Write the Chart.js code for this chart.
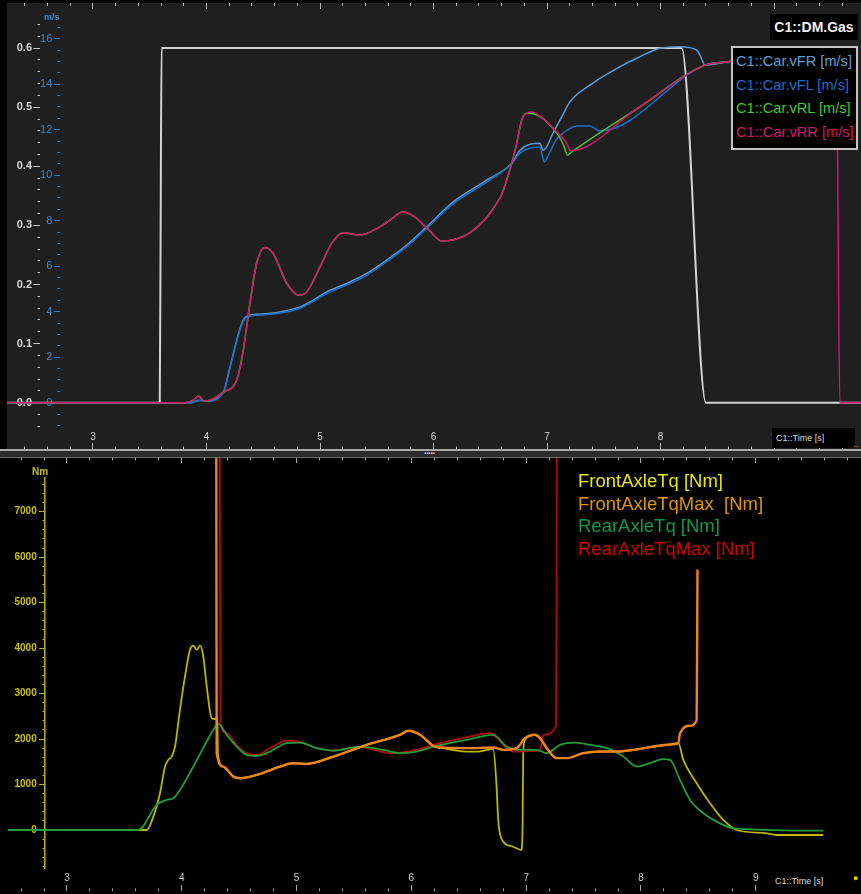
<!DOCTYPE html>
<html><head><meta charset="utf-8">
<script src="https://cdn.jsdelivr.net/npm/chart.js@4.4.1/dist/chart.umd.min.js"></script>
<style>
html,body{margin:0;padding:0;background:#000;}
#wrap{position:relative;width:861px;height:894px;overflow:hidden;background:#000;font-family:"Liberation Sans",Arial,sans-serif;}
#topPanel{position:absolute;left:7px;top:3px;width:854px;height:446px;background:#1f1f1f;}
#sep{position:absolute;left:0;top:449px;width:861px;height:6px;background:#2b2b2b;border-top:2px solid #a8a8a8;border-bottom:1px solid #6a6a6a;}
#botPanel{position:absolute;left:0;top:458px;width:861px;height:436px;background:#000;}
canvas{display:block;}
.ov{position:absolute;white-space:pre;}
#gasBox{left:770px;top:14px;width:88px;height:26px;line-height:26px;background:#000;color:#f0f0f0;font-weight:bold;font-size:14px;text-align:center;}
#topLeg{left:731px;top:46px;width:123px;height:98px;padding-top:2px;box-sizing:content-box;background:#000;border:2px solid #c4c4c4;font-size:14.6px;line-height:23.7px;overflow:hidden;}
#topLeg div{padding-left:3px;}
#botLeg{left:578px;top:470px;font-size:18.5px;line-height:22.7px;}
.tlab{background:#000;color:#dcdcdc;font-size:9px;line-height:20px;height:20px;padding-left:4px;}
</style></head><body>
<div id="wrap">
  <div id="topPanel"><canvas id="c1" width="854" height="446"></canvas></div>
  <div id="sep"></div>
  <div class="ov" style="left:424px;top:451px;color:#d0d0d0;font-size:6px;line-height:5px;letter-spacing:0px;">▪▪▪▪▪</div>
  <div id="botPanel"><canvas id="c2" width="861" height="436"></canvas></div>
  <div class="ov" style="left:44px;top:12px;color:#3d85c6;font-size:9px;font-weight:bold;">m/s</div>
  <div class="ov" style="left:32px;top:466px;color:#c8c000;font-size:10px;font-weight:bold;">Nm</div>
  <div class="ov" id="gasBox"></div>
  <div class="ov" id="topLeg"></div>
  <div class="ov" id="botLeg"></div>
  <div class="ov tlab" style="left:772px;top:428px;width:79px;">C1::Time [s]</div>
  <div class="ov" style="left:852px;top:441px;color:#e08020;font-size:8px;">↔</div>
  <div class="ov tlab" style="left:771px;top:871px;width:80px;">C1::Time [s]</div>
  <div class="ov" style="left:853px;top:873px;color:#e8d800;font-size:9px;">●</div>
</div>
<script>
const FONT = '"Liberation Sans", Arial, sans-serif';

// ================= TOP PANEL DATA (time s) =================
const gasT = [2.24, 3.588, 3.596, 3.604, 8.186, 8.40, 9.77];
const gasV = [0, 0, 0.3, 0.6, 0.6, 0, 0];

const vfrT = [2.24, 3.855, 3.943, 3.987, 4.148, 4.207, 4.266, 4.324, 4.383, 4.471, 4.648, 4.824, 4.941, 5.059, 5.235, 5.411, 5.588, 5.764, 5.94, 6.174, 6.468, 6.689, 6.762, 6.938, 6.965, 7.0, 7.053, 7.115, 7.203, 7.405, 7.643, 7.79, 7.996, 8.172, 8.319, 8.348, 8.392, 8.595, 9.0, 9.55];
const vfrV = [0, 0, 0.11, 0.07, 0.47, 1.57, 2.75, 3.63, 3.85, 3.89, 3.99, 4.21, 4.51, 4.87, 5.24, 5.68, 6.27, 6.93, 7.73, 8.83, 9.78, 10.52, 11.1, 11.4, 11.1, 11.28, 11.85, 12.42, 13.23, 14.05, 14.77, 15.14, 15.58, 15.65, 15.5, 15.28, 14.84, 14.99, 15.3, 15.5];

const vflT = [2.24, 3.855, 3.943, 3.987, 4.148, 4.207, 4.266, 4.324, 4.383, 4.471, 4.648, 4.824, 4.941, 5.059, 5.235, 5.411, 5.588, 5.764, 5.94, 6.174, 6.468, 6.689, 6.762, 6.938, 6.974, 7.026, 7.079, 7.141, 7.264, 7.379, 7.467, 8.392, 8.595, 9.0, 9.55];
const vflV = [0, 0, 0.1, 0.06, 0.45, 1.52, 2.7, 3.58, 3.8, 3.85, 3.94, 4.15, 4.45, 4.8, 5.17, 5.6, 6.2, 6.86, 7.66, 8.75, 9.7, 10.5, 10.97, 11.24, 10.59, 11.02, 11.54, 11.85, 12.16, 12.16, 11.94, 14.84, 14.99, 15.3, 15.5];

const vrlT = [2.24, 3.81, 3.88, 3.93, 3.98, 4.07, 4.145, 4.266, 4.32, 4.383, 4.442, 4.515, 4.586, 4.707, 4.81, 4.883, 5.0, 5.103, 5.203, 5.352, 5.529, 5.617, 5.731, 5.837, 5.969, 6.072, 6.586, 6.645, 6.689, 6.733, 6.777, 6.82, 6.894, 6.967, 7.041, 7.099, 7.143, 7.182, 7.217, 7.8, 8.392, 8.595, 9.0, 9.55];
const vrlV = [0, 0, 0.1, 0.29, 0.07, 0.2, 0.46, 0.99, 2.18, 4.38, 6.13, 6.82, 6.57, 5.25, 4.73, 4.87, 5.97, 7.0, 7.47, 7.37, 7.73, 8.03, 8.38, 8.16, 7.54, 7.1, 8.99, 9.78, 10.52, 11.4, 12.42, 12.72, 12.68, 12.49, 12.12, 11.76, 11.36, 10.88, 11.02, 12.94, 14.84, 14.99, 15.3, 15.5];

const vrrT = [2.24, 3.81, 3.88, 3.93, 3.98, 4.07, 4.145, 4.266, 4.32, 4.383, 4.442, 4.515, 4.586, 4.707, 4.81, 4.883, 5.0, 5.103, 5.203, 5.352, 5.529, 5.617, 5.731, 5.837, 5.969, 6.072, 6.586, 6.645, 6.689, 6.733, 6.777, 6.82, 6.865, 6.923, 6.997, 7.07, 7.13, 7.173, 7.209, 7.8, 8.392, 8.595, 9.0, 9.55, 9.58, 9.77];
const vrrV = [0, 0, 0.1, 0.29, 0.07, 0.2, 0.46, 0.99, 2.18, 4.38, 6.13, 6.82, 6.57, 5.25, 4.73, 4.87, 5.97, 7.0, 7.47, 7.37, 7.73, 8.03, 8.38, 8.16, 7.54, 7.1, 8.99, 9.78, 10.52, 11.4, 12.42, 12.72, 12.79, 12.64, 12.35, 11.98, 11.69, 11.4, 11.07, 12.95, 14.84, 14.99, 15.3, 15.5, 0, 0];

// tick labels
const topXTicks = [3, 4, 5, 6, 7, 8, 9];
const gasTicks = [0, 0.1, 0.2, 0.3, 0.4, 0.5, 0.6];
const spdTicks = [0, 2, 4, 6, 8, 10, 12, 14, 16];

// ================= BOTTOM PANEL DATA (time s, Nm) =================
const ftT = [2.486, 3.694, 3.752, 3.81, 3.854, 3.882, 3.912, 3.941, 3.984, 4.028, 4.071, 4.1, 4.13, 4.159, 4.187, 4.217, 4.26, 4.289, 4.309, 4.315, 4.361, 4.449, 4.507, 4.681, 4.855, 4.971, 5.088, 5.32, 5.611, 5.901, 5.973, 6.075, 6.191, 6.249, 6.482, 6.569, 6.713, 6.742, 6.756, 6.771, 6.8, 6.887, 6.96, 6.969, 6.974, 6.99, 7.018, 7.077, 7.12, 7.179, 7.266, 7.353, 7.498, 7.643, 7.788, 7.933, 8.079, 8.224, 8.325, 8.369, 8.485, 8.601, 8.717, 8.834, 9.095, 9.182, 9.588];
const ftV = [0, 0, 293, 808, 1394, 1542, 1615, 1835, 2644, 3377, 3965, 4053, 3965, 4053, 3818, 3157, 2461, 2439, 2496, 1652, 1394, 1174, 1139, 1234, 1394, 1469, 1454, 1615, 1873, 2093, 2181, 2093, 1850, 1813, 1725, 1725, 1778, 954, 220, -73, -258, -368, -441, 220, 1690, 1983, 2055, 2093, 2020, 1800, 1580, 1580, 1690, 1725, 1725, 1762, 1822, 1873, 1910, 1542, 1029, 588, 220, 0, -73, -110, -110];

const fmT = [4.300, 4.304, 4.361, 4.449, 4.507, 4.681, 4.855, 4.971, 5.088, 5.32, 5.611, 5.901, 5.973, 6.075, 6.191, 6.249, 6.482, 6.713, 6.801, 6.917, 6.99, 7.077, 7.12, 7.179, 7.266, 7.353, 7.498, 7.643, 7.788, 7.933, 8.079, 8.224, 8.325, 8.34, 8.427, 8.485, 8.492];
const fmV = [9000, 1690, 1394, 1174, 1139, 1234, 1394, 1469, 1454, 1615, 1873, 2093, 2181, 2093, 1850, 1813, 1800, 1813, 1762, 1800, 2020, 2093, 2020, 1800, 1580, 1580, 1690, 1725, 1725, 1762, 1822, 1873, 1910, 2130, 2291, 2423, 5728];

const rtT = [2.486, 3.621, 3.781, 3.868, 3.926, 3.984, 4.1, 4.217, 4.304, 4.318, 4.391, 4.478, 4.565, 4.652, 4.768, 4.913, 5.03, 5.175, 5.32, 5.552, 5.755, 5.901, 6.046, 6.191, 6.482, 6.713, 6.83, 6.917, 7.091, 7.179, 7.294, 7.425, 7.556, 7.73, 7.846, 7.963, 8.079, 8.194, 8.253, 8.34, 8.427, 8.543, 8.659, 8.804, 9.588];
const rtV = [0, 0, 551, 661, 698, 881, 1394, 1945, 2313, 2335, 2093, 1835, 1652, 1630, 1725, 1910, 1923, 1800, 1747, 1835, 1762, 1690, 1725, 1835, 1983, 2093, 1835, 1762, 1762, 1690, 1873, 1923, 1873, 1778, 1615, 1394, 1469, 1558, 1542, 1101, 661, 368, 183, 37, -15];

const rmT = [4.330, 4.337, 4.391, 4.478, 4.565, 4.652, 4.768, 4.913, 5.03, 5.175, 5.32, 5.552, 5.814, 6.046, 6.191, 6.482, 6.685, 6.83, 6.888, 7.091, 7.12, 7.149, 7.26, 7.268];
const rmV = [9000, 2335, 2130, 1873, 1690, 1652, 1800, 1967, 1945, 1800, 1747, 1822, 1690, 1762, 1873, 2042, 2130, 1800, 1725, 1740, 1760, 2093, 2291, 9000];

const botXTicks = [3, 4, 5, 6, 7, 8, 9];
const nmTicks = [0, 1000, 2000, 3000, 4000, 5000, 6000, 7000];

// ================= helpers =================
function pts(T, V) { return T.map((t, i) => ({x: t, y: V[i]})); }
function range(a, b, step) { const o = []; for (let v = a; v <= b + 1e-9; v += step) o.push(Math.round(v * 1000) / 1000); return o; }
const zeroPad = s => { s.paddingLeft = 0; s.paddingRight = 0; s.paddingTop = 0; s.paddingBottom = 0; };

function tickAxis(axis, min, max, values, pos, len, color, border) {
  return { type: 'linear', axis, min, max, position: pos, display: true,
    grid: { display: true, drawOnChartArea: false, drawTicks: true, tickLength: len, tickColor: color, tickWidth: 1 },
    border: border ? { display: true, color: border.color, width: border.width } : { display: false },
    ticks: { display: false, autoSkip: false },
    afterBuildTicks: s => { s.ticks = values.map(v => ({value: v})); },
    afterFit: zeroPad };
}
function labelAxis(axis, min, max, values, pos, color, size, fmt, bold) {
  return { type: 'linear', axis, min, max, position: pos, display: true,
    grid: { display: false, drawTicks: false, drawOnChartArea: false },
    border: { display: false },
    ticks: { display: true, autoSkip: false, maxRotation: 0, minRotation: 0, padding: 0, color,
      font: { size, family: FONT, weight: bold ? 'bold' : 'normal' }, callback: fmt },
    afterBuildTicks: s => { s.ticks = values.map(v => ({value: v})); },
    afterFit: zeroPad };
}

Chart.defaults.font.family = FONT;

// ================= TOP CHART =================
const TX0 = 2.2423, TX1 = 9.7665;
const GMIN = -0.07834, GMAX = 0.6763;
const SMIN = -2.0352, SMAX = 17.569;
const topGray = '#b4b4b4';

const lineDs = (label, data, color, yAxisID, width, order, legendColor) => ({
  label, data, borderColor: color, backgroundColor: color, borderWidth: width, pointRadius: 0,
  yAxisID, xAxisID: 'x', tension: 0, cubicInterpolationMode: 'monotone', order, legendColor, fill: false
});

const chart1 = new Chart(document.getElementById('c1'), {
  type: 'line',
  data: { datasets: [
    lineDs('C1::DM.Gas', pts(gasT, gasV), '#d2d2d2', 'gas', 2, 5, '#f0f0f0'),
    lineDs('C1::Car.vFR [m/s]', pts(vfrT, vfrV), '#5a9bd5', 'spd', 1.5, 4, '#5fa0d7'),
    lineDs('C1::Car.vFL [m/s]', pts(vflT, vflV), '#1f6fc4', 'spd', 1.5, 3, '#1e6ec8'),
    lineDs('C1::Car.vRL [m/s]', pts(vrlT, vrlV), '#4cc232', 'spd', 1.5, 2, '#46c828'),
    lineDs('C1::Car.vRR [m/s]', pts(vrrT, vrrV), '#cf1a6c', 'spd', 1.5, 1, '#d7146e')
  ]},
  options: {
    responsive: false, animation: false, devicePixelRatio: 1,
    layout: { padding: 0, autoPadding: false },
    plugins: { legend: { display: false }, tooltip: { enabled: false } },
    scales: {
      x: labelAxis('x', TX0, TX1, topXTicks, { gas: -0.0479 }, '#d4d4d4', 10, v => String(v)),
      xT: tickAxis('x', TX0, TX1, topXTicks, { gas: GMIN }, -6, topGray),
      xM: tickAxis('x', TX0, TX1, range(2.4, 9.6, 0.2), { gas: GMIN }, -2.5, topGray),
      xT2: tickAxis('x', TX0, TX1, topXTicks, { gas: GMAX }, 6, topGray),
      xM2: tickAxis('x', TX0, TX1, range(2.4, 9.6, 0.2), { gas: GMAX }, 3, topGray),
      gas: labelAxis('y', GMIN, GMAX, gasTicks, { x: 2.4626 }, '#d8d8d8', 11, v => v.toFixed(1), true),
      gasT: tickAxis('y', GMIN, GMAX, gasTicks, { x: 2.533 }, 6.5, '#c8c8c8'),
      gasM: tickAxis('y', GMIN, GMAX, range(-0.04, 0.64, 0.02), { x: 2.533 }, 2.5, '#c8c8c8'),
      spd: labelAxis('y', SMIN, SMAX, spdTicks, { x: 2.6414 }, '#3d85c6', 11, v => String(v)),
      spdT: tickAxis('y', SMIN, SMAX, spdTicks, { x: 2.709 }, 5.7, '#3d85c6'),
      spdM: tickAxis('y', SMIN, SMAX, range(-1, 16.5, 0.5), { x: 2.709 }, 2.5, '#3d85c6')
    }
  }
});

// ================= BOTTOM CHART =================
const BX0 = 2.4164, BX1 = 9.9164;
const NMIN = -836, NMAX = 7741;
const botGray = '#a8a8a8';
const yel = '#bcb400';

const lineDs2 = (label, data, color, width, order, legendColor) => ({
  label, data, borderColor: color, backgroundColor: color, borderWidth: width, pointRadius: 0,
  xAxisID: 'x', yAxisID: 'y', tension: 0, cubicInterpolationMode: 'monotone', order, legendColor, clip: false, fill: false
});

const chart2 = new Chart(document.getElementById('c2'), {
  type: 'line',
  data: { datasets: [
    lineDs2('FrontAxleTq [Nm]', pts(ftT, ftV), '#bdb500', 1.8, 4, '#e6e600'),
    lineDs2('FrontAxleTqMax  [Nm]', pts(fmT, fmV), '#f08414', 2.4, 1, '#dc9600'),
    lineDs2('RearAxleTq [Nm]', pts(rtT, rtV), '#1f9e3c', 1.8, 2, '#0f9a4b'),
    lineDs2('RearAxleTqMax [Nm]', pts(rmT, rmV), '#b00a0a', 1.8, 3, '#d20000')
  ]},
  options: {
    responsive: false, animation: false, devicePixelRatio: 1,
    layout: { padding: { top: 20, bottom: 26, left: 0, right: 0 }, autoPadding: false },
    plugins: { legend: { display: false }, tooltip: { enabled: false } },
    scales: {
      x: labelAxis('x', BX0, BX1, botXTicks, { y: -934.7 }, '#cccccc', 10, v => String(v)),
      xT: tickAxis('x', BX0, BX1, botXTicks, { y: -1341.5 }, -6, botGray),
      xM: tickAxis('x', BX0, BX1, range(2.6, 9.8, 0.2), { y: -1341.5 }, -2.5, botGray),
      xT2: tickAxis('x', BX0, BX1, botXTicks, { y: 8181 }, 5, botGray),
      xM2: tickAxis('x', BX0, BX1, range(2.6, 9.8, 0.2), { y: 8181 }, 2.5, botGray),
      y: labelAxis('y', NMIN, NMAX, nmTicks, { x: 2.736 }, '#c8c000', 10, v => String(v), true),
      yT: tickAxis('y', NMIN, NMAX, nmTicks, { x: 2.8084 }, 5, yel, { color: yel, width: 1.5 }),
      yM: tickAxis('y', NMIN, NMAX, range(-800, 7600, 200), { x: 2.8084 }, 2.5, yel)
    }
  }
});

// ================= HTML legends from the charts' datasets =================
const gasDs = chart1.data.datasets[0];
const gb = document.getElementById('gasBox');
gb.textContent = gasDs.label; gb.style.color = gasDs.legendColor;
const tl = document.getElementById('topLeg');
chart1.data.datasets.slice(1).forEach(ds => {
  const d = document.createElement('div'); d.textContent = ds.label; d.style.color = ds.legendColor; tl.appendChild(d);
});
const bl = document.getElementById('botLeg');
chart2.data.datasets.forEach(ds => {
  const d = document.createElement('div'); d.textContent = ds.label; d.style.color = ds.legendColor; bl.appendChild(d);
});
</script>
</body></html>
